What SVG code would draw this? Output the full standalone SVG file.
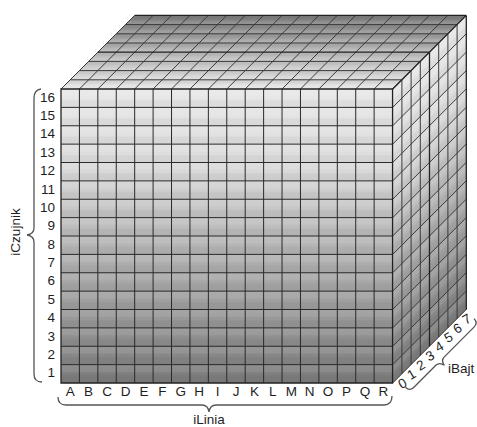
<svg xmlns="http://www.w3.org/2000/svg" width="477" height="427" viewBox="0 0 477 427">
<style>
.grid{fill:none;stroke:#2a2a2a;stroke-width:1;vector-effect:non-scaling-stroke}
.gridS{fill:none;stroke:#3a3a3a;stroke-width:1;vector-effect:non-scaling-stroke}
.edge{fill:none;stroke:#222;stroke-width:1.3;vector-effect:non-scaling-stroke}
.lbl{font-family:"Liberation Sans",Arial,sans-serif;font-size:13.5px;fill:#1e1e1e}
.brace{fill:none;stroke:#555;stroke-width:1.3}
</style>
<defs>
<linearGradient id="gV" x1="0" y1="0" x2="0" y2="1">
<stop offset="0" stop-color="#e8e8e8"/>
<stop offset="0.25" stop-color="#dcdcdc"/>
<stop offset="0.5" stop-color="#b9b9b9"/>
<stop offset="0.75" stop-color="#9c9c9c"/>
<stop offset="1" stop-color="#7b7b7b"/>
</linearGradient>
<linearGradient id="gT" x1="0" y1="0" x2="0" y2="1">
<stop offset="0" stop-color="#e6e6e6"/>
<stop offset="0.5" stop-color="#b8b8b8"/>
<stop offset="1" stop-color="#7a7a7a"/>
</linearGradient>
<pattern id="band" patternUnits="userSpaceOnUse" width="100" height="1">
<rect x="0" y="0" width="100" height="0.4" fill="#fff" fill-opacity="0.09"/>
<rect x="0" y="0.6" width="100" height="0.4" fill="#000" fill-opacity="0.04"/>
</pattern>
</defs>

<g id="top-face" transform="matrix(18.42 0 9.2 -9.2 61 89)">
<rect x="0" y="0" width="18" height="8" fill="url(#gT)"/>
<rect x="0" y="0" width="18" height="8" fill="url(#band)"/>
<path class="gridS" d="M0 0V8M1 0V8M2 0V8M3 0V8M4 0V8M5 0V8M6 0V8M7 0V8M8 0V8M9 0V8M10 0V8M11 0V8M12 0V8M13 0V8M14 0V8M15 0V8M16 0V8M17 0V8M18 0V8M0 1H18M0 2H18M0 3H18M0 5H18M0 6H18M0 7H18"/>
<path class="edge" d="M0 4H18M0 8H18"/>
</g>

<g id="right-face" transform="matrix(9.2 -9.2 0 18.375 392.7 89)">
<rect x="0" y="0" width="8" height="16" fill="url(#gV)"/>
<rect x="0" y="0" width="8" height="16" fill="url(#band)"/>
<path class="gridS" d="M1 0V16M2 0V16M3 0V16M5 0V16M6 0V16M7 0V16M0 1H8M0 2H8M0 3H8M0 4H8M0 5H8M0 6H8M0 7H8M0 8H8M0 9H8M0 10H8M0 11H8M0 12H8M0 13H8M0 14H8M0 15H8M0 16H8"/>
<path class="edge" d="M4 0V16M8 0V16M0 0H8"/>
</g>

<g id="front-face" transform="matrix(18.42 0 0 18.375 61 89)">
<rect x="0" y="0" width="18" height="16" fill="url(#gV)"/>
<rect x="0" y="0" width="18" height="16" fill="url(#band)"/>
<path class="grid" d="M1 0V16M2 0V16M3 0V16M4 0V16M5 0V16M6 0V16M7 0V16M8 0V16M9 0V16M10 0V16M11 0V16M12 0V16M13 0V16M14 0V16M15 0V16M16 0V16M17 0V16M0 1H18M0 2H18M0 3H18M0 4H18M0 5H18M0 6H18M0 7H18M0 8H18M0 9H18M0 10H18M0 11H18M0 12H18M0 13H18M0 14H18M0 15H18"/>
<rect class="edge" x="0" y="0" width="18" height="16"/>
</g>

<g id="row-labels" class="lbl" text-anchor="end">
<text x="55" y="101.7">16</text>
<text x="55" y="120.1">15</text>
<text x="55" y="138.4">14</text>
<text x="55" y="156.8">13</text>
<text x="55" y="175.2">12</text>
<text x="55" y="193.6">11</text>
<text x="55" y="211.9">10</text>
<text x="55" y="230.3">9</text>
<text x="55" y="248.7">8</text>
<text x="55" y="267.1">7</text>
<text x="55" y="285.4">6</text>
<text x="55" y="303.8">5</text>
<text x="55" y="322.2">4</text>
<text x="55" y="340.6">3</text>
<text x="55" y="358.9">2</text>
<text x="55" y="377.3">1</text>
</g>

<g id="column-labels" class="lbl" text-anchor="middle">
<text x="70.2" y="396">A</text>
<text x="88.6" y="396">B</text>
<text x="107.1" y="396">C</text>
<text x="125.5" y="396">D</text>
<text x="143.9" y="396">E</text>
<text x="162.3" y="396">F</text>
<text x="180.7" y="396">G</text>
<text x="199.2" y="396">H</text>
<text x="217.6" y="396">I</text>
<text x="236" y="396">J</text>
<text x="254.4" y="396">K</text>
<text x="272.8" y="396">L</text>
<text x="291.3" y="396">M</text>
<text x="309.7" y="396">N</text>
<text x="328.1" y="396">O</text>
<text x="346.5" y="396">P</text>
<text x="365" y="396">Q</text>
<text x="383.4" y="396">R</text>
</g>

<g id="depth-labels" class="lbl" text-anchor="middle">
<text transform="translate(402.3 383.4) rotate(-30)" y="4.7">0</text>
<text transform="translate(411.5 374.2) rotate(-30)" y="4.7">1</text>
<text transform="translate(420.7 365) rotate(-30)" y="4.7">2</text>
<text transform="translate(429.9 355.8) rotate(-30)" y="4.7">3</text>
<text transform="translate(439.1 346.6) rotate(-30)" y="4.7">4</text>
<text transform="translate(448.3 337.4) rotate(-30)" y="4.7">5</text>
<text transform="translate(457.5 328.2) rotate(-30)" y="4.7">6</text>
<text transform="translate(466.7 319) rotate(-30)" y="4.7">7</text>
</g>

<g id="connectors">
<path class="brace" d="M41 89Q34 90 34 98L34 228Q34 234 27 235Q34 236 34 242L34 374Q34 382 42 382"/>
<path class="brace" d="M58 397Q58 405 66 405L202 405Q208 405 209 412Q210 405 216 405L384 405Q392 405 392 396"/>
<path class="brace" transform="translate(392.7 383) rotate(-45)" d="M6 12Q6 18 12 18L43 18Q48 18 49 24Q50 18 55 18L97 18Q103 18 103 12"/>
</g>

<g id="axis-labels" class="lbl">
<text transform="translate(19.5 232) rotate(-90)" text-anchor="middle">iCzujnik</text>
<text x="209" y="423.5" text-anchor="middle">iLinia</text>
<text x="448" y="373">iBajt</text>
</g>
</svg>
